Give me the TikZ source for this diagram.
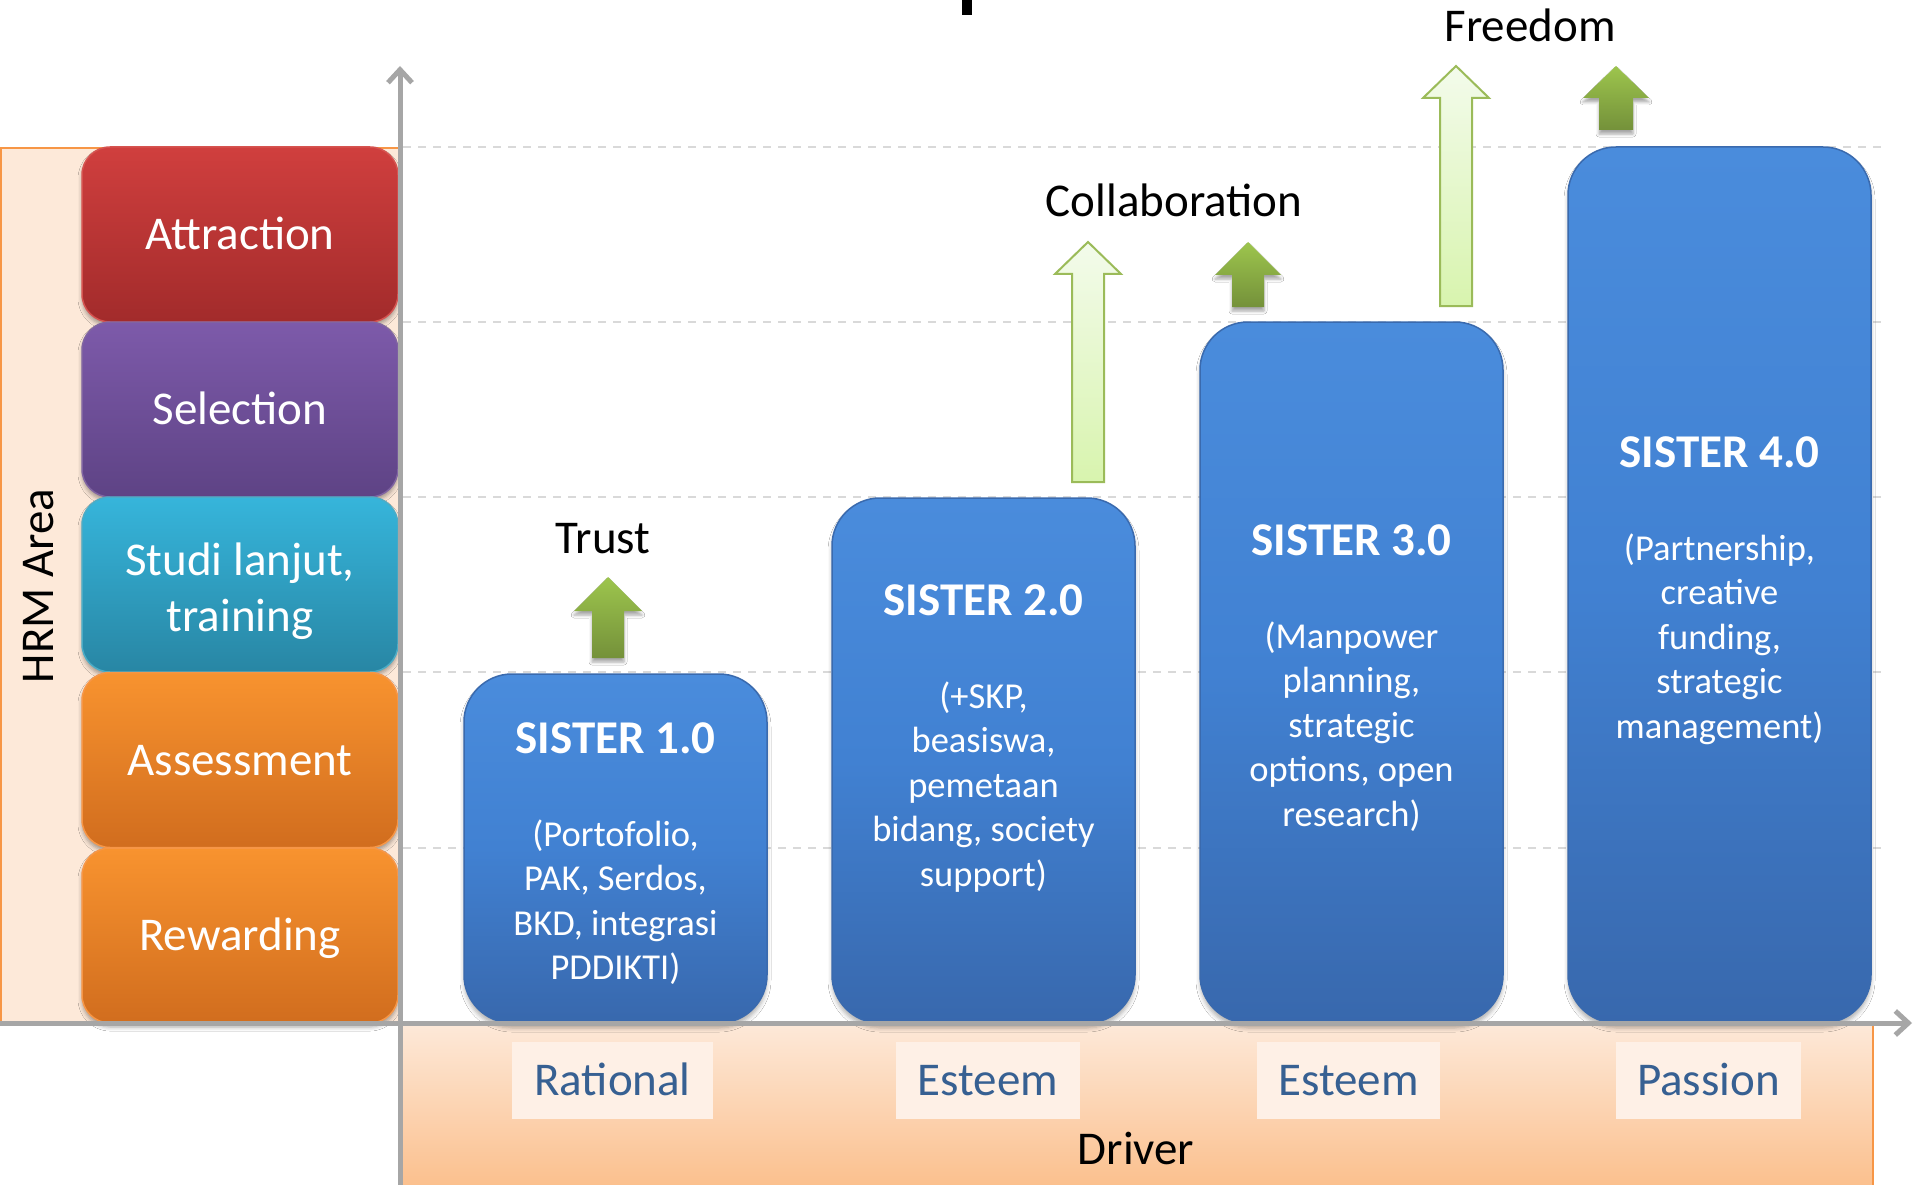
\documentclass[tikz,border=0pt]{standalone}
\usepackage{fontspec}
\setmainfont{Carlito}
\usetikzlibrary{arrows.meta,shadows.blur}
\definecolor{peach}{HTML}{FDE9D9}
\definecolor{peachD}{HTML}{FBC08E}
\definecolor{orgline}{HTML}{F79646}
\definecolor{axgray}{HTML}{A6A6A6}
\definecolor{gridgray}{HTML}{D9D9D9}
\definecolor{redT}{HTML}{D03F3E}
\definecolor{redB}{HTML}{A22B2B}
\definecolor{redE}{HTML}{D65350}
\definecolor{purT}{HTML}{7D5AAA}
\definecolor{purB}{HTML}{5E4385}
\definecolor{purE}{HTML}{8064A2}
\definecolor{tealT}{HTML}{36B5DB}
\definecolor{tealB}{HTML}{2886A4}
\definecolor{tealE}{HTML}{4BACC6}
\definecolor{orT}{HTML}{F8932F}
\definecolor{orB}{HTML}{D16D1E}
\definecolor{orE}{HTML}{F79646}
\definecolor{blueT}{HTML}{4A8CDC}
\definecolor{blueM}{HTML}{4181D2}
\definecolor{blueB}{HTML}{3868AD}
\definecolor{blueE}{HTML}{3A6AAE}
\definecolor{gT}{HTML}{9DC54D}
\definecolor{gB}{HTML}{74913A}
\definecolor{lgT}{HTML}{F3FBEB}
\definecolor{lgB}{HTML}{D8F4AE}
\definecolor{lgE}{HTML}{9BBB59}
\definecolor{lblbg}{HTML}{FEF0E6}
\definecolor{lbltext}{HTML}{376092}
\begin{document}
\begin{tikzpicture}[x=1pt,y=-1pt,
  lbox/.style={rounded corners=28pt, minimum width=316pt, minimum height=175pt, inner sep=0pt, line width=1.5pt, text=white, font=\fontsize{47}{56}\selectfont, text height=30pt, text depth=0pt, blur shadow={shadow xshift=0pt, shadow yshift=-4pt, shadow blur radius=4pt, shadow opacity=35}},
  bbox/.style={rounded corners=48pt, minimum width=303pt, inner sep=0pt, draw=blueE, line width=1.5pt, top color=blueT, bottom color=blueB, middle color=blueM, blur shadow={shadow xshift=0pt, shadow yshift=-5pt, shadow blur radius=4pt, shadow opacity=30}},
  ttl/.style={font=\bfseries\fontsize{47}{56}\selectfont, text=white, inner sep=0pt, anchor=base},
  bdy/.style={font=\fontsize{36.5}{44}\selectfont, text=white, inner sep=0pt, anchor=base},
  lab/.style={font=\fontsize{47}{56}\selectfont, text=black, inner sep=0pt, anchor=base},
  dbox/.style={fill=lblbg, minimum height=77pt, inner sep=0pt, text=lbltext, font=\fontsize{47}{56}\selectfont, text height=30pt, text depth=0pt},
  darr/.style={top color=gT, bottom color=gB, blur shadow={shadow xshift=0pt, shadow yshift=-4pt, shadow blur radius=3pt, shadow opacity=35}},
  larr/.style={top color=lgT, bottom color=lgB, draw=lgE, line width=2pt},
  axisln/.style={draw=axgray, line width=5pt, -{Straight Barb[length=13pt,width=24pt]}},
  gridln/.style={draw=gridgray, line width=2pt, dash pattern=on 8pt off 7pt}
]
\useasboundingbox (0,0) rectangle (1915,1185);
\fill[white] (0,0) rectangle (1915,1185);

% title fragment cut off at the top
\fill[black] (962,0) rectangle (972,15);

% left HRM panel
\fill[peach] (0,147) rectangle (400,1023);
\draw[orgline, line width=2pt] (1,1023) -- (1,148) -- (400,148);

% bottom driver panel
\shade[top color=peach, bottom color=peachD] (400,1023) rectangle (1873,1185);
\draw[orgline, line width=2pt] (1873,1023) -- (1873,1185);

% grid lines
\foreach \yy in {147,322,497,672,848}
  \draw[gridln] (403,\yy) -- (1887,\yy);

% left HRM boxes
\node[lbox, top color=redT, bottom color=redB, draw=redE] (attr) at (240,234.5) {Attraction};
\node[lbox, top color=purT, bottom color=purB, draw=purE] (sel) at (240,409.5) {Selection};
\node[lbox, top color=tealT, bottom color=tealB, draw=tealE] (studi) at (240,584.5) {};
\node[font=\fontsize{47}{56}\selectfont, text=white, align=center, inner sep=0pt] (studit) at (240,591) {Studi lanjut,\\training};
\node[lbox, top color=orT, bottom color=orB, draw=orE] (assess) at (240,760) {Assessment};
\node[lbox, top color=orT, bottom color=orB, draw=orE] (reward) at (240,935.5) {Rewarding};
\node[rotate=90, font=\fontsize{47}{56}\selectfont, inner sep=0pt] (hrm) at (39,586) {HRM Area};

% SISTER boxes
\node[bbox, minimum height=349pt] (s1) at (615.5,848.5) {};
\node[bbox, minimum height=525pt] (s2) at (983.5,760.5) {};
\node[bbox, minimum height=701pt] (s3) at (1351.5,672.5) {};
\node[bbox, minimum height=876pt] (s4) at (1719.5,585) {};

\node[ttl] (s1t) at (615.5,753) {SISTER 1.0};
\node[ttl] (s2t) at (983.5,615) {SISTER 2.0};
\node[ttl] (s3t) at (1351.5,555) {SISTER 3.0};
\node[ttl] (s4t) at (1719.5,467) {SISTER 4.0};

\foreach \t [count=\i] in {{(Portofolio,},{PAK, Serdos,},{BKD, integrasi},{PDDIKTI)}}
  \node[bdy] (sa\i) at (615.5,{846+44.5*(\i-1)}) {\t};
\foreach \t [count=\i] in {{(+SKP,},{beasiswa,},{pemetaan},{bidang, society},{support)}}
  \node[bdy] (sb\i) at (983.5,{708+44.5*(\i-1)}) {\t};
\foreach \t [count=\i] in {{(Manpower},{planning,},{strategic},{options, open},{research)}}
  \node[bdy] (sc\i) at (1351.5,{648+44.5*(\i-1)}) {\t};
\foreach \t [count=\i] in {{(Partnership,},{creative},{funding,},{strategic},{management)}}
  \node[bdy] (sd\i) at (1719.5,{560+44.5*(\i-1)}) {\t};

% arrows
\path[darr] (592,658) -- (592,611) -- (574,611) -- (608,577) -- (642,611) -- (624,611) -- (624,658) -- cycle;
\path[larr] (1072,482) -- (1072,274) -- (1055,274) -- (1088,242) -- (1121,274) -- (1104,274) -- (1104,482) -- cycle;
\path[darr] (1232,307) -- (1232,275) -- (1215,275) -- (1248,242) -- (1281,275) -- (1264,275) -- (1264,307) -- cycle;
\path[larr] (1440,306) -- (1440,98) -- (1423,98) -- (1456,66) -- (1489,98) -- (1472,98) -- (1472,306) -- cycle;
\path[darr] (1599,130) -- (1599,98) -- (1583,98) -- (1616,66) -- (1649,98) -- (1633,98) -- (1633,130) -- cycle;

\node[lab] (trust) at (603,553) {Trust};
\node[lab] (collab) at (1174,217) {Collaboration};
\node[lab] (freedom) at (1530,42) {Freedom};

% driver labels
\node[dbox, minimum width=201pt] (d1) at (612.5,1080.5) {Rational};
\node[dbox, minimum width=184pt] (d2) at (988,1080.5) {Esteem};
\node[dbox, minimum width=183pt] (d3) at (1348.5,1080.5) {Esteem};
\node[dbox, minimum width=185pt] (d4) at (1708.5,1080.5) {Passion};
\node[lab] (driver) at (1136,1164) {Driver};

% axes
\coordinate (yb) at (400,1185);
\coordinate (yt) at (400,66);
\coordinate (xl) at (0,1023);
\coordinate (xr) at (1912,1023);
\draw[axisln] (xl) -- (xr);
\draw[axisln] (yb) -- (yt);
\end{tikzpicture}
\end{document}
